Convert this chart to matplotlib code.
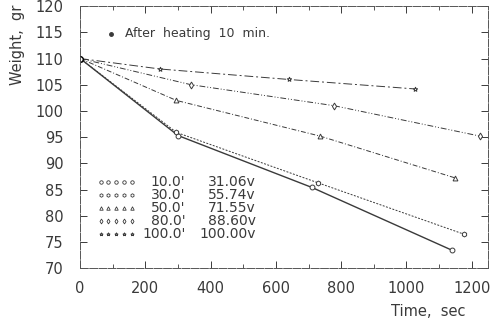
import matplotlib.pyplot as plt
from matplotlib.ticker import MultipleLocator

# Data
t_10 = [0, 300, 710, 1140]
w_10 = [110, 95.3, 85.4, 73.4]
t_30 = [0, 295, 728, 1175]
w_30 = [110, 95.9, 86.3, 76.5]
t_50 = [0, 295, 735, 1150]
w_50 = [110, 102.0, 95.2, 87.2]
t_80 = [0, 340, 778, 1225]
w_80 = [110, 105.0, 101.0, 95.2]
t_100 = [0, 245, 640, 1025]
w_100 = [110, 108.0, 106.0, 104.2]

angles = ["10.0'", "30.0'", "50.0'", "80.0'", "100.0'"]
volts = ["31.06v", "55.74v", "71.55v", "88.60v", "100.00v"]

series = [
    (t_10, w_10, 'o', '-'),
    (t_30, w_30, 'h', (0, (2, 1.5))),
    (t_50, w_50, '^', (0, (5, 2, 1, 2))),
    (t_80, w_80, 'd', (0, (6, 2, 1, 2, 1, 2))),
    (t_100, w_100, '*', (0, (9, 3, 2, 3))),
]

ink = '#3a3a3a'

fig = plt.figure(figsize=(5.01, 3.23), dpi=100)
ax = fig.add_axes([0.160, 0.170, 0.814, 0.811])

for i, (t, w, mk, ls) in enumerate(series):
    lw = 1.0 if i == 0 else 0.7
    ax.plot(t, w, linestyle=ls, color=ink, linewidth=lw, marker=mk,
            markersize=3.5, markerfacecolor='white', markeredgecolor=ink,
            markeredgewidth=0.7)

# start point
ax.plot(t_10[0], w_10[0], 'o', markersize=4, markerfacecolor='white',
        markeredgecolor='black', markeredgewidth=1.0)

# hand-made legend
for i, (t, w, mk, ls) in enumerate(series):
    yy = 0.33 - i * 0.05
    ax.plot([0.05 + k * 0.019 for k in range(5)], [yy] * 5, linestyle='none',
            marker=mk, markersize=2.5, markerfacecolor='white',
            markeredgecolor=ink, markeredgewidth=0.6, transform=ax.transAxes)
    ax.text(0.258, yy, angles[i], ha='right', va='center', fontsize=10,
            color=ink, transform=ax.transAxes)
    ax.text(0.43, yy, volts[i], ha='right', va='center', fontsize=10,
            color=ink, transform=ax.transAxes)

# note
ax.plot(0.075, 0.895, 'o', markersize=2.5, color=ink, transform=ax.transAxes)
ax.text(0.11, 0.895, 'After  heating  10  min.', ha='left', va='center',
        fontsize=9, color=ink, transform=ax.transAxes)

ax.set_xlim(0, 1250)
ax.set_ylim(70, 120)
ax.xaxis.set_major_locator(MultipleLocator(200))
ax.xaxis.set_minor_locator(MultipleLocator(100))
ax.yaxis.set_major_locator(MultipleLocator(5))

ax.tick_params(which='both', direction='in', top=True, right=True,
               colors=ink, labelcolor=ink, labelsize=10.5)
ax.tick_params(which='major', length=5, width=0.7)
ax.tick_params(which='minor', length=3, width=0.6)
ax.tick_params(axis='x', pad=9)
ax.tick_params(axis='y', pad=12)

for s in ax.spines.values():
    s.set_color('#555555')
    s.set_linewidth(0.7)
    s.set_linestyle((0, (8, 1.5)))

fig.text(0.855, 0.035, 'Time,  sec', ha='center', va='center',
         fontsize=10.5, color=ink)
fig.text(0.034, 0.86, 'Weight,  gr', ha='center', va='center',
         rotation=90, fontsize=10.5, color=ink)

fig.savefig('out.png', dpi=100, facecolor='white')
